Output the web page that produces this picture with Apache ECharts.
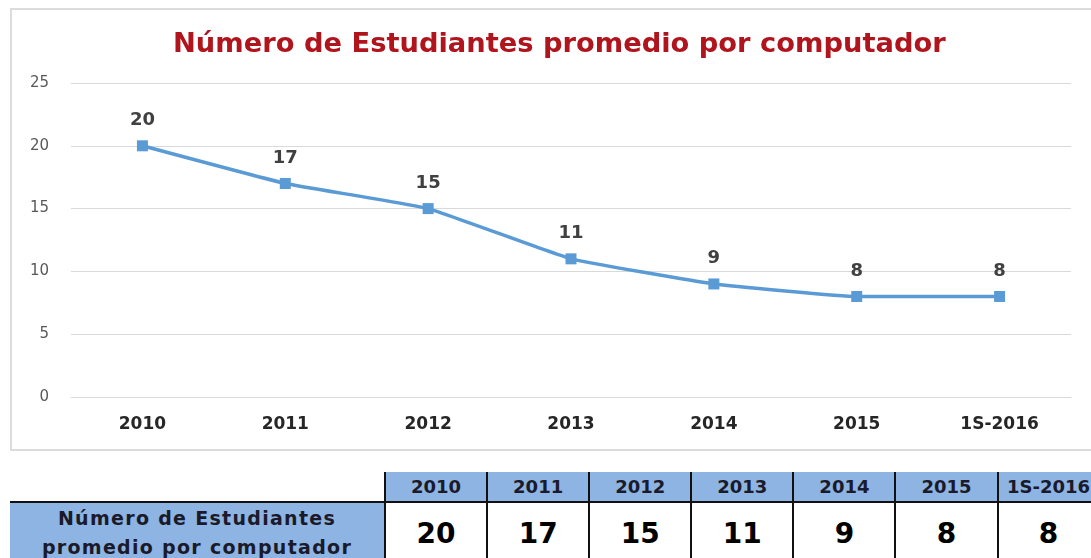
<!DOCTYPE html>
<html>
<head>
<meta charset="utf-8">
<script src="https://cdn.jsdelivr.net/npm/echarts@6/dist/echarts.min.js"></script>
<style>
  html, body { margin:0; padding:0; background:#fff; width:1091px; height:558px; overflow:hidden; }
  #frame { position:absolute; left:10px; top:8px; width:1100px; height:439px; border:2px solid #dcdcdc; box-sizing:content-box; }
  #chart { position:absolute; left:0; top:0; width:1091px; height:460px; }
  #tbl { position:absolute; left:10px; top:472px; width:1090px; border-collapse:collapse; font-family:"DejaVu Sans", sans-serif; font-weight:bold; table-layout:fixed; }
  #tbl td { padding:0; text-align:center; vertical-align:middle; white-space:nowrap; overflow:hidden; }
  #tbl tr.h td { height:29px; font-size:18px; color:#1a1a2a; background:#8db4e2; border-left:2px solid #111; border-right:2px solid #111; }
  #tbl tr.h td.blank { background:#fff; border:none; }
  #tbl tr.d td { height:60px; font-size:28px; color:#000; background:#fff; border:2px solid #111; border-bottom:none; }
  #tbl tr.d td.lab { background:#8db4e2; font-size:19px; letter-spacing:1.3px; line-height:29px; color:#1a1a2a; border-left:none; }
</style>
</head>
<body>
<div id="frame"></div>
<div id="chart"></div>
<table id="tbl"></table>
<script>
const titleText = "Número de Estudiantes promedio por computador";
const categories = ["2010", "2011", "2012", "2013", "2014", "2015", "1S-2016"];
const values = [20, 17, 15, 11, 9, 8, 8];
const rowLabel = ["Número de Estudiantes", "promedio por computador"];

const chart = echarts.init(document.getElementById('chart'), null, {renderer:'canvas'});
chart.setOption({
  animation:false,
  title:{
    text:titleText, left:168, top:26,
    textStyle:{fontFamily:'DejaVu Sans', fontWeight:'bold', fontSize:27.3, color:'#b0141c'}
  },
  grid:{left:71, right:20, top:83, height:314},
  xAxis:{
    type:'category', data:categories, boundaryGap:true,
    axisLine:{show:true, lineStyle:{color:'#d9d9d9', width:1}},
    axisTick:{show:false},
    axisLabel:{margin:19, fontFamily:'DejaVu Sans', fontWeight:'bold', fontSize:17, color:'#262626'}
  },
  yAxis:{
    type:'value', min:0, max:25, interval:5,
    axisLine:{show:false}, axisTick:{show:false},
    axisLabel:{margin:22, fontFamily:'DejaVu Sans', fontSize:15, color:'#595959'},
    splitLine:{lineStyle:{color:'#d9d9d9', width:1}}
  },
  series:[{
    type:'line', data:values, smooth:0.1,
    symbol:'rect', symbolSize:11,
    lineStyle:{color:'#5b9bd5', width:3.5},
    itemStyle:{color:'#5b9bd5'},
    label:{show:true, position:'top', distance:11, fontFamily:'DejaVu Sans', fontWeight:'bold', fontSize:18, color:'#404040'}
  }]
});

// table built from the arrays
const tbl = document.getElementById('tbl');
const colgroup = document.createElement('colgroup');
const c0 = document.createElement('col'); c0.style.width = '375px'; colgroup.appendChild(c0);
categories.forEach(()=>{ const c=document.createElement('col'); c.style.width='102.1px'; colgroup.appendChild(c); });
tbl.appendChild(colgroup);
const hr = document.createElement('tr'); hr.className='h';
const b = document.createElement('td'); b.className='blank'; hr.appendChild(b);
categories.forEach(c=>{ const td=document.createElement('td'); td.textContent=c; hr.appendChild(td); });
tbl.appendChild(hr);
const dr = document.createElement('tr'); dr.className='d';
const lab = document.createElement('td'); lab.className='lab'; lab.innerHTML = rowLabel.join('<br>'); dr.appendChild(lab);
values.forEach(v=>{ const td=document.createElement('td'); td.textContent=v; dr.appendChild(td); });
tbl.appendChild(dr);
</script>
</body>
</html>
